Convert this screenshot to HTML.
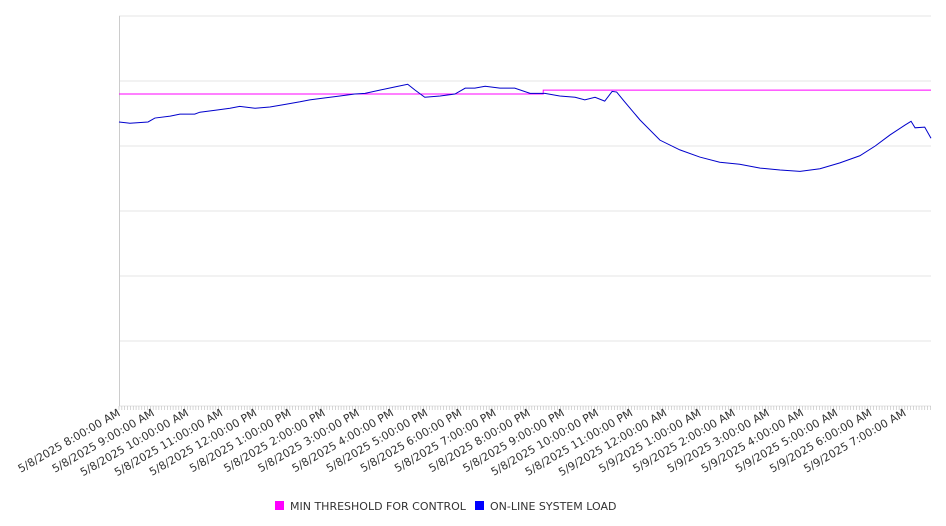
<!DOCTYPE html>
<html><head><meta charset="utf-8"><style>
body{margin:0;background:#fff;}
svg{display:block;font-family:"DejaVu Sans","Liberation Sans",sans-serif;}
</style></head><body>
<svg id="chart" width="946" height="526"></svg>
<script>
const minutes=[0,19,51,63,90,107,133,142,169,195,212,239,265,292,318,335,362,388,414,432,458,485,507,520,537,564,590,608,625,643,669,695,722,748,774,801,818,836,853,866,874,888,915,950,985,1020,1055,1090,1126,1161,1196,1231,1266,1301,1328,1354,1380,1391,1398,1415,1426];
const loadValues=[437,435,437,443,446,449,449,452,455,458,461,458,460,464,468,471,474,477,480,481,486,491,495,486,475,477,480,489,489,492,489,489,481,481,477,475,471,475,469,484,483,468,440,409,394,383,375,372,366,363,361,365,374,385,400,417,432,438,428,429,412];
const thresholdMinutes=[0,745,745,1426];
const thresholdValues=[480,480,486,486];
const tickLabels=["5/8/2025 8:00:00 AM","5/8/2025 9:00:00 AM","5/8/2025 10:00:00 AM","5/8/2025 11:00:00 AM","5/8/2025 12:00:00 PM","5/8/2025 1:00:00 PM","5/8/2025 2:00:00 PM","5/8/2025 3:00:00 PM","5/8/2025 4:00:00 PM","5/8/2025 5:00:00 PM","5/8/2025 6:00:00 PM","5/8/2025 7:00:00 PM","5/8/2025 8:00:00 PM","5/8/2025 9:00:00 PM","5/8/2025 10:00:00 PM","5/8/2025 11:00:00 PM","5/9/2025 12:00:00 AM","5/9/2025 1:00:00 AM","5/9/2025 2:00:00 AM","5/9/2025 3:00:00 AM","5/9/2025 4:00:00 AM","5/9/2025 5:00:00 AM","5/9/2025 6:00:00 AM","5/9/2025 7:00:00 AM"];
const yGridValues=[0,100,200,300,400,500,600];

const NS="http://www.w3.org/2000/svg";
const svg=document.getElementById('chart');
const L=119,R=931,T=16,B=406,XMAX=1426,YMAX=600;
const xs=m=>L+m/XMAX*(R-L);
const ys=v=>B-v/YMAX*(B-T);
function mk(tag,attrs){const e=document.createElementNS(NS,tag);for(const k in attrs)e.setAttribute(k,attrs[k]);svg.appendChild(e);return e;}

yGridValues.forEach(v=>{
  const g=mk('line',{x1:L,x2:R,y1:ys(v),y2:ys(v),stroke:'#e6e6e6','stroke-width':1});
  
  
});
const ax=mk('line',{x1:L+0.5,x2:L+0.5,y1:T,y2:B,stroke:'#ccc'});


for(let m=0;m<=XMAX;m+=5){
  const t=mk('line',{x1:xs(m),x2:xs(m),y1:B,y2:B+4,stroke:'#bbb','stroke-width':0.6});
  
  
}
tickLabels.forEach((s,i)=>{
  const x=xs(i*60)+2,y=415;
  const t=mk('text',{x:x,y:y,'text-anchor':'end','font-size':11,fill:'#333',transform:`rotate(-30 ${x} ${y})`});
  t.textContent=s;
  
  
});
const th=mk('polyline',{points:thresholdMinutes.map((m,i)=>xs(m)+','+ys(thresholdValues[i])).join(' '),fill:'none',stroke:'#ff00ff','stroke-width':1});


const ln=mk('polyline',{points:minutes.map((m,i)=>xs(m)+','+ys(loadValues[i])).join(' '),fill:'none',stroke:'#0000cc','stroke-width':1});



const l1=mk('rect',{x:275,y:501,width:9,height:9,fill:'#ff00ff'});


const lt1=mk('text',{x:290,y:510,'font-size':11,fill:'#333'});lt1.textContent='MIN THRESHOLD FOR CONTROL';


const l2=mk('rect',{x:475,y:501,width:9,height:9,fill:'#0000ff'});


const lt2=mk('text',{x:490,y:510,'font-size':11,fill:'#333'});lt2.textContent='ON-LINE SYSTEM LOAD';


</script>
</body></html>
